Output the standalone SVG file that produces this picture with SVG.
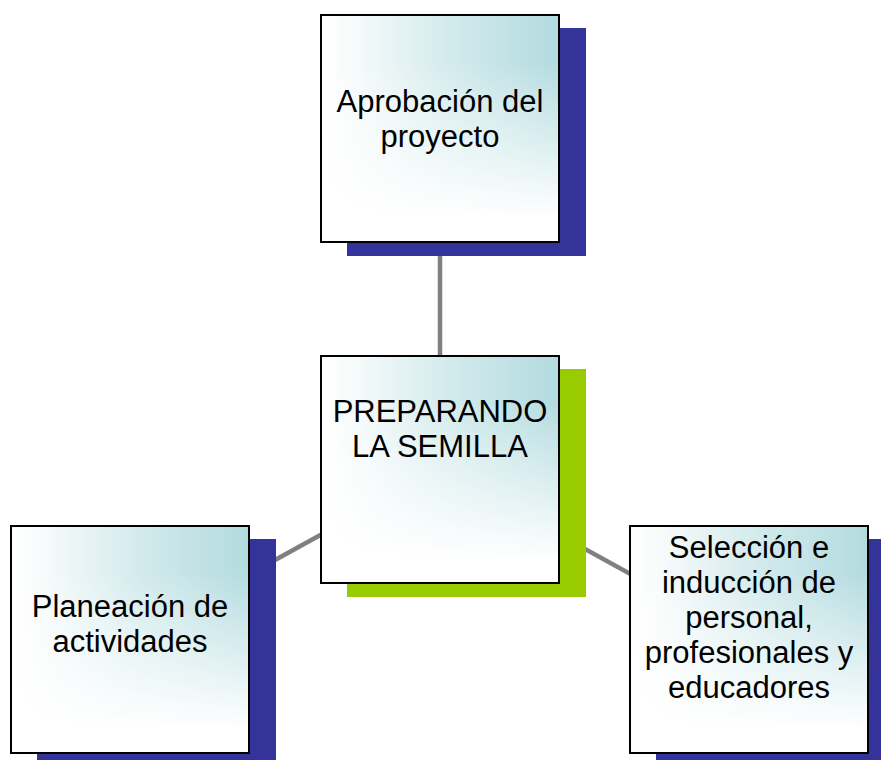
<svg xmlns="http://www.w3.org/2000/svg" width="881" height="760" viewBox="0 0 881 760">
<style>
.card{stroke:#000;stroke-width:2;fill:#fff}
.tint{fill:url(#h);mask:url(#m)}
.sh{fill:#333399}
.shg{fill:#99cc00}
.t{font-family:"Liberation Sans",Arial,sans-serif;font-size:31px;fill:#000;text-anchor:middle}
.c{stroke:#808080;stroke-width:4.5;fill:none}
</style>
<defs>
<linearGradient id="h" x1="0" y1="0" x2="1" y2="0">
<stop offset="0" stop-color="#ffffff"/>
<stop offset="0.12" stop-color="#f8fbfb"/>
<stop offset="0.55" stop-color="#d2eaec"/>
<stop offset="1" stop-color="#b3dbdf"/>
</linearGradient>
<linearGradient id="v" x1="0" y1="0" x2="0" y2="1">
<stop offset="0" stop-color="#fff"/>
<stop offset="0.2" stop-color="#fff"/>
<stop offset="0.9" stop-color="#000"/>
</linearGradient>
<mask id="m" maskContentUnits="objectBoundingBox">
<rect x="0" y="0" width="1" height="1" fill="url(#v)"/>
</mask>
</defs>
<rect width="881" height="760" fill="#fff"/>
<g id="connectors">
<line class="c" x1="440" y1="128" x2="440" y2="469"/>
<line class="c" x1="440" y1="469" x2="130" y2="640"/>
<line class="c" x1="440" y1="469" x2="750" y2="640"/>
</g>
<g id="n-top">
<rect class="sh" x="347" y="28" width="239" height="228"/>
<rect class="card" x="321" y="15" width="238" height="227"/>
<rect class="tint" x="322" y="16" width="236" height="225"/>
<text class="t" x="440" y="112">Aprobación del</text>
<text class="t" x="440" y="147">proyecto</text>
</g>
<g id="n-center">
<rect class="shg" x="347" y="369" width="239" height="228"/>
<rect class="card" x="321" y="356" width="238" height="227"/>
<rect class="tint" x="322" y="357" width="236" height="225"/>
<text class="t" x="440" y="422">PREPARANDO</text>
<text class="t" x="440" y="457">LA SEMILLA</text>
</g>
<g id="n-left">
<rect class="sh" x="37" y="539" width="239" height="228"/>
<rect class="card" x="11" y="526" width="238" height="227"/>
<rect class="tint" x="12" y="527" width="236" height="225"/>
<text class="t" x="130" y="617">Planeación de</text>
<text class="t" x="130" y="652">actividades</text>
</g>
<g id="n-right">
<rect class="sh" x="656" y="539" width="239" height="228"/>
<rect class="card" x="630" y="526" width="238" height="227"/>
<rect class="tint" x="631" y="527" width="236" height="225"/>
<text class="t" x="749" y="558">Selección e</text>
<text class="t" x="749" y="593">inducción de</text>
<text class="t" x="749" y="628">personal,</text>
<text class="t" x="749" y="663">profesionales y</text>
<text class="t" x="749" y="698">educadores</text>
</g>
</svg>
